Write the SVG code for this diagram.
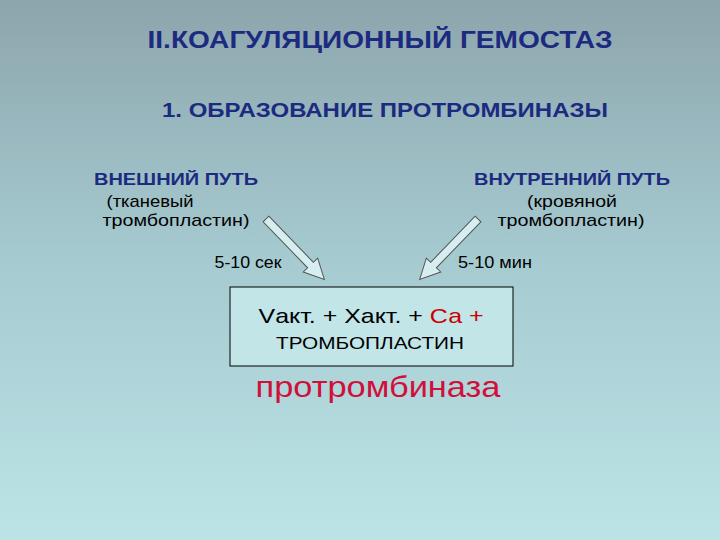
<svg xmlns="http://www.w3.org/2000/svg" width="720" height="540" viewBox="0 0 720 540">
<defs>
<linearGradient id="bg" x1="0" y1="0" x2="0" y2="1">
<stop offset="0" stop-color="#8da5ad"/>
<stop offset="0.5" stop-color="#a6ccd1"/>
<stop offset="1" stop-color="#bce3e6"/>
</linearGradient>
<style>
text{font-family:"Liberation Sans",Arial,sans-serif;text-anchor:middle}
.h{fill:#1c2a80;font-weight:bold}
.t{fill:#000;font-size:17px}
.arr{fill:#d6eef0;stroke:#555;stroke-width:1}
</style>
</defs>
<rect width="720" height="540" fill="url(#bg)"/>
<text class="h" x="380" y="48" font-size="24" textLength="465" lengthAdjust="spacingAndGlyphs">II.КОАГУЛЯЦИОННЫЙ ГЕМОСТАЗ</text>
<text class="h" x="385" y="117" font-size="20" textLength="446" lengthAdjust="spacingAndGlyphs">1. ОБРАЗОВАНИЕ ПРОТРОМБИНАЗЫ</text>
<g id="ext">
<text class="h" x="176" y="185" font-size="17" textLength="164" lengthAdjust="spacingAndGlyphs">ВНЕШНИЙ ПУТЬ</text>
<text class="t" x="150" y="207" textLength="87" lengthAdjust="spacingAndGlyphs">(тканевый</text>
<text class="t" x="176" y="226" textLength="147" lengthAdjust="spacingAndGlyphs">тромбопластин)</text>
<text class="t" x="248" y="268" textLength="67" lengthAdjust="spacingAndGlyphs">5-10 сек</text>
</g>
<g id="int">
<text class="h" x="572" y="185" font-size="17" textLength="196" lengthAdjust="spacingAndGlyphs">ВНУТРЕННИЙ ПУТЬ</text>
<text class="t" x="572" y="207" textLength="90" lengthAdjust="spacingAndGlyphs">(кровяной</text>
<text class="t" x="571" y="226" textLength="147" lengthAdjust="spacingAndGlyphs">тромбопластин)</text>
<text class="t" x="495" y="268" textLength="74" lengthAdjust="spacingAndGlyphs">5-10 мин</text>
</g>
<g id="connectors">
<polygon class="arr" transform="translate(266,219) rotate(46)" points="0,-4 64,-4 64,-10 84,0 64,10 64,4 0,4"/>
<polygon class="arr" transform="translate(478,219) rotate(134)" points="0,-4 64,-4 64,-10 84,0 64,10 64,4 0,4"/>
</g>
<g id="box">
<rect x="230" y="287" width="283" height="79" fill="#c2e5e8" stroke="#000" stroke-width="1"/>
<text x="371" y="323" font-size="21" textLength="225" lengthAdjust="spacingAndGlyphs">Vакт. + Xакт. + <tspan fill="#cc0000">Са +</tspan></text>
<text x="370" y="349" font-size="17" textLength="188" lengthAdjust="spacingAndGlyphs">ТРОМБОПЛАСТИН</text>
</g>
<g id="result">
<text x="378" y="397" font-size="30" fill="#d0103a" textLength="245" lengthAdjust="spacingAndGlyphs">протромбиназа</text>
</g>
</svg>
